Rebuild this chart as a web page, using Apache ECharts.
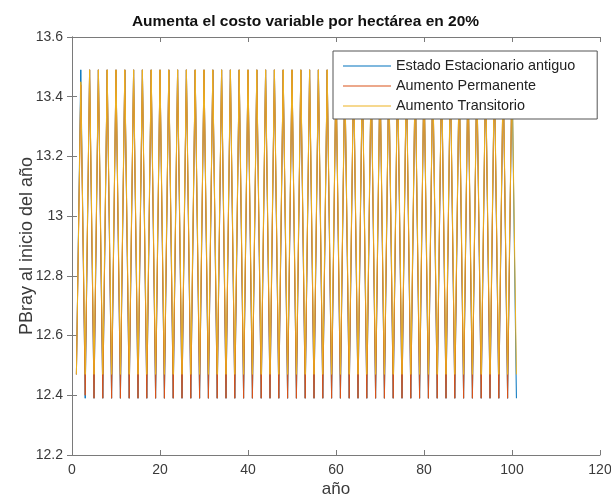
<!DOCTYPE html>
<html>
<head>
<meta charset="utf-8">
<script src="https://cdn.jsdelivr.net/npm/echarts@6/dist/echarts.min.js"></script>
<style>
html,body{margin:0;padding:0;background:#fff;}
#chart{width:611px;height:500px;}
</style>
</head>
<body>
<div id="chart"></div>
<script>
var titleText = 'Aumenta el costo variable por hectárea en 20%';
var xName = 'año';
var yName = 'PBray al inicio del año';
var seriesNames = ['Estado Estacionario antiguo', 'Aumento Permanente', 'Aumento Transitorio'];

var years = [
  1,2,3,4,5,6,7,8,9,10,
  11,12,13,14,15,16,17,18,19,20,
  21,22,23,24,25,26,27,28,29,30,
  31,32,33,34,35,36,37,38,39,40,
  41,42,43,44,45,46,47,48,49,50,
  51,52,53,54,55,56,57,58,59,60,
  61,62,63,64,65,66,67,68,69,70,
  71,72,73,74,75,76,77,78,79,80,
  81,82,83,84,85,86,87,88,89,90,
  91,92,93,94,95,96,97,98,99,100,
  101
];

var antiguo = [
  12.47,13.49,12.39,13.49,12.39,13.49,12.39,13.49,12.39,13.49,
  12.39,13.49,12.39,13.49,12.39,13.49,12.39,13.49,12.39,13.49,
  12.39,13.49,12.39,13.49,12.39,13.49,12.39,13.49,12.39,13.49,
  12.39,13.49,12.39,13.49,12.39,13.49,12.39,13.49,12.39,13.49,
  12.39,13.49,12.39,13.49,12.39,13.49,12.39,13.49,12.39,13.49,
  12.39,13.49,12.39,13.49,12.39,13.49,12.39,13.49,12.39,13.49,
  12.39,13.49,12.39,13.49,12.39,13.49,12.39,13.49,12.39,13.49,
  12.39,13.49,12.39,13.49,12.39,13.49,12.39,13.49,12.39,13.49,
  12.39,13.49,12.39,13.49,12.39,13.49,12.39,13.49,12.39,13.49,
  12.39,13.49,12.39,13.49,12.39,13.49,12.39,13.49,12.39,13.49,
  12.39
];

var permanente = [
  12.47,13.44,12.40,13.49,12.39,13.49,12.39,13.49,12.39,13.49,
  12.39,13.49,12.39,13.49,12.39,13.49,12.39,13.49,12.39,13.49,
  12.39,13.49,12.39,13.49,12.39,13.49,12.39,13.49,12.39,13.49,
  12.39,13.49,12.39,13.49,12.39,13.49,12.39,13.49,12.39,13.49,
  12.39,13.49,12.39,13.49,12.39,13.49,12.39,13.49,12.39,13.49,
  12.39,13.49,12.39,13.49,12.39,13.49,12.39,13.49,12.39,13.49,
  12.39,13.49,12.39,13.49,12.39,13.49,12.39,13.49,12.39,13.49,
  12.39,13.49,12.39,13.49,12.39,13.49,12.39,13.49,12.39,13.49,
  12.39,13.49,12.39,13.49,12.39,13.49,12.39,13.49,12.39,13.49,
  12.39,13.49,12.39,13.49,12.39,13.49,12.39,13.49,12.39,13.49
];

var transitorio = [
  12.47,13.45,12.47,13.49,12.47,13.49,12.47,13.49,12.47,13.49,
  12.47,13.49,12.47,13.49,12.47,13.49,12.47,13.49,12.47,13.49,
  12.47,13.49,12.47,13.49,12.47,13.49,12.47,13.49,12.47,13.49,
  12.47,13.49,12.47,13.49,12.47,13.49,12.47,13.49,12.47,13.49,
  12.47,13.49,12.47,13.49,12.47,13.49,12.47,13.49,12.47,13.49,
  12.47,13.49,12.47,13.49,12.47,13.49,12.47,13.49,12.47,13.49,
  12.47,13.49,12.47,13.49,12.47,13.49,12.47,13.49,12.47,13.49,
  12.47,13.49,12.47,13.49,12.47,13.49,12.47,13.49,12.47,13.49,
  12.47,13.49,12.47,13.49,12.47,13.49,12.47,13.49,12.47,13.49,
  12.47,13.49,12.47,13.49,12.47,13.49,12.47,13.49,12.47,13.49,
  12.47
];

var colors = ['#0072BD', '#D95319', '#EDB120'];
var FONT = '"Liberation Sans", Arial, sans-serif';

function pairs(vals) {
  return vals.map(function (v, i) { return [years[i], v]; });
}

var axisColor = '#7a7a7a';
var labelColor = '#3a3a3a';

var chart = echarts.init(document.getElementById('chart'), null, {renderer: 'canvas'});
chart.setOption({
  animation: false,
  backgroundColor: '#ffffff',
  color: colors,
  title: {
    text: titleText,
    left: 'center',
    top: 9,
    textStyle: {fontFamily: FONT, fontSize: 15.5, fontWeight: 'bold', color: '#111'}
  },
  legend: {
    orient: 'vertical',
    left: 333,
    top: 51,
    padding: [8, 22, 6, 10],
    icon: 'rect',
    itemWidth: 48,
    itemHeight: 1,
    itemGap: 6,
    backgroundColor: '#ffffff',
    borderColor: '#555',
    borderWidth: 1,
    textStyle: {fontFamily: FONT, fontSize: 14.4, color: '#222'},
    data: seriesNames
  },
  grid: {left: 72, right: 11, top: 37, bottom: 45, containLabel: false, outerBoundsMode: 'none'},
  xAxis: [{
    type: 'value', min: 0, max: 120, interval: 20, position: 'bottom',
    name: xName, nameLocation: 'middle', nameGap: 26, nameMoveOverlap: false,
    nameTextStyle: {fontFamily: FONT, fontSize: 17, color: labelColor},
    axisLine: {show: true, lineStyle: {color: axisColor, width: 1}},
    axisTick: {show: true, inside: true, length: 5, lineStyle: {color: axisColor}},
    axisLabel: {fontFamily: FONT, fontSize: 14, color: labelColor, margin: 8},
    splitLine: {show: false}
  }, {
    type: 'value', min: 0, max: 120, interval: 20, position: 'top',
    axisLine: {show: true, lineStyle: {color: axisColor, width: 1}},
    axisTick: {show: true, inside: true, length: 5, lineStyle: {color: axisColor}},
    axisLabel: {show: false},
    splitLine: {show: false}
  }],
  yAxis: [{
    type: 'value', min: 12.2, max: 13.6, interval: 0.2, position: 'left',
    name: yName, nameLocation: 'middle', nameGap: 36, nameMoveOverlap: false,
    nameTextStyle: {fontFamily: FONT, fontSize: 18, color: labelColor},
    axisLine: {show: true, lineStyle: {color: axisColor, width: 1}},
    axisTick: {show: true, inside: true, length: 5, lineStyle: {color: axisColor}},
    axisLabel: {fontFamily: FONT, fontSize: 14, color: labelColor, margin: 9,
      formatter: function (v) { return String(Math.round(v * 10) / 10); }},
    splitLine: {show: false}
  }, {
    type: 'value', min: 12.2, max: 13.6, interval: 0.2, position: 'right',
    axisLine: {show: true, lineStyle: {color: axisColor, width: 1}},
    axisTick: {show: true, inside: true, length: 5, lineStyle: {color: axisColor}},
    axisLabel: {show: false},
    splitLine: {show: false}
  }],
  series: [
    {name: seriesNames[0], type: 'line', symbol: 'none', data: pairs(antiguo),
     lineStyle: {width: 1, color: colors[0]}, itemStyle: {color: colors[0]}},
    {name: seriesNames[1], type: 'line', symbol: 'none', data: pairs(permanente),
     lineStyle: {width: 1, color: colors[1]}, itemStyle: {color: colors[1]}},
    {name: seriesNames[2], type: 'line', symbol: 'none', data: pairs(transitorio),
     lineStyle: {width: 1, color: colors[2]}, itemStyle: {color: colors[2]}}
  ]
});
</script>
</body>
</html>
